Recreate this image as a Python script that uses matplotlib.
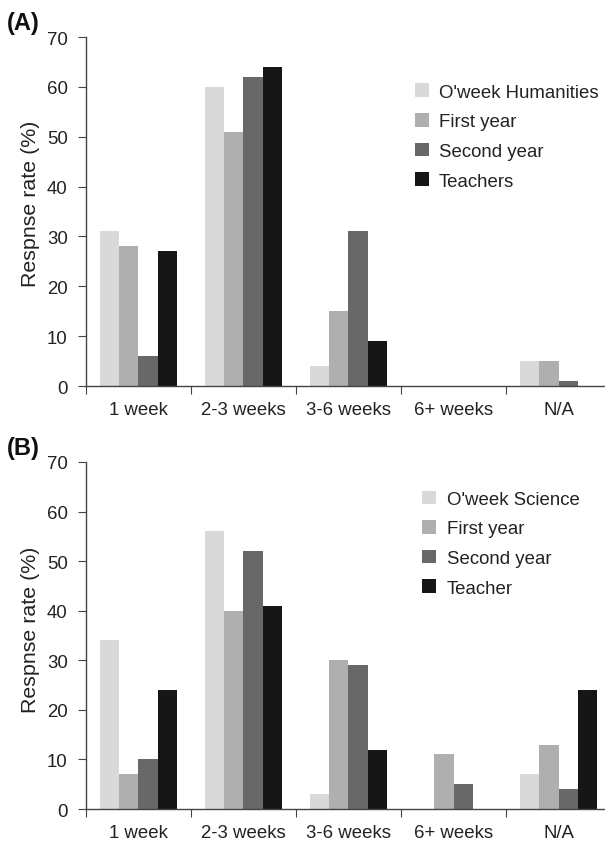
import numpy as np
import matplotlib
matplotlib.use("Agg")
import matplotlib.pyplot as plt

plt.rcParams['font.family'] = ['Liberation Sans', 'DejaVu Sans']

# ---- data ----
categories = ["1 week", "2-3 weeks", "3-6 weeks", "6+ weeks", "N/A"]

labels_a = ["O'week Humanities", "First year", "Second year", "Teachers"]
oweek_hum = [31, 60, 4, 0, 5]
first_a = [28, 51, 15, 0, 5]
second_a = [6, 62, 31, 0, 1]
teachers_a = [27, 64, 9, 0, 0]

labels_b = ["O'week Science", "First year", "Second year", "Teacher"]
oweek_sci = [34, 56, 3, 0, 7]
first_b = [7, 40, 30, 11, 13]
second_b = [10, 52, 29, 5, 4]
teacher_b = [24, 41, 12, 0, 24]

colors = ["#d9d9d9", "#afafaf", "#686868", "#161616"]
txt = "#222222"
FS = 13.4


def draw_panel(ax, series, labels, tag, leg_x, leg_y, lab_y):
    n = len(categories)
    x = np.arange(n) + 0.5
    w = 0.185
    offs = (np.arange(4) - 1.5) * w
    for vals, lab, col, off in zip(series, labels, colors, offs):
        ax.bar(x + off, vals, width=w, color=col, label=lab, linewidth=0)

    ax.set_xlim(0, n)
    ax.set_ylim(0, 70)
    ax.set_yticks(range(0, 71, 10))
    ax.set_xticks(np.arange(n + 1))
    ax.set_xticklabels([])
    ax.set_xticks(x, minor=True)
    ax.set_xticklabels(categories, minor=True, fontsize=FS, color=txt)
    ax.tick_params(axis='x', which='major', length=6, direction='out', color='#444444')
    ax.tick_params(axis='x', which='minor', length=0, pad=11)
    ax.tick_params(axis='y', length=6, direction='out', labelsize=FS, pad=7,
                   labelcolor=txt, color='#444444')
    for s in ['top', 'right']:
        ax.spines[s].set_visible(False)
    for s in ['left', 'bottom']:
        ax.spines[s].set_color('#444444')
        ax.spines[s].set_linewidth(1.0)
    ax.set_ylabel("Respnse rate (%)", fontsize=15.4, color=txt)
    ax.yaxis.set_label_coords(-0.088, lab_y)
    ax.text(-0.15, 1.075, tag, transform=ax.transAxes, fontsize=17,
            fontweight='bold', ha='left', va='top', color='#111111')
    leg = ax.legend(loc='upper left', bbox_to_anchor=(leg_x, leg_y), frameon=False,
                    fontsize=FS, handlelength=0.75, handleheight=0.75,
                    handletextpad=0.55, labelspacing=0.66)
    for t in leg.get_texts():
        t.set_color(txt)


fig = plt.figure(figsize=(6.05, 8.45), dpi=100)
ax_a = fig.add_axes([0.142, 0.542, 0.868, 0.413])
ax_b = fig.add_axes([0.142, 0.0414, 0.868, 0.4107])

draw_panel(ax_a, [oweek_hum, first_a, second_a, teachers_a], labels_a, "(A)", 0.594, 0.915, 0.525)
draw_panel(ax_b, [oweek_sci, first_b, second_b, teacher_b], labels_b, "(B)", 0.609, 0.966, 0.518)

fig.savefig("out.png", dpi=100)
